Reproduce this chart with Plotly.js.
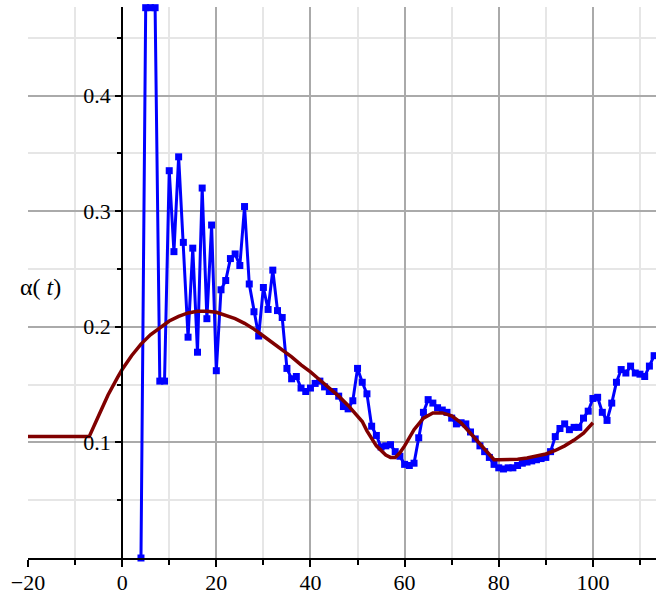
<!DOCTYPE html>
<html>
<head>
<meta charset="utf-8">
<script src="https://cdn.plot.ly/plotly-3.0.1.min.js"></script>
<style>
  html, body { margin: 0; padding: 0; background: #ffffff; }
  #plot { width: 656px; height: 615px; }
</style>
</head>
<body>
<div id="plot"></div>
<script>
// Measured alpha(t): one sample per unit of t (t = 5..7 sit at the top of the view)
const tSamples = [
  4, 5, 6, 7, 8, 9, 10, 11, 12, 13, 14, 15, 16, 17, 18, 19, 20,
  21, 22, 23, 24, 25, 26, 27, 28, 29, 30, 31, 32, 33, 34, 35, 36, 37, 38, 39, 40,
  41, 42, 43, 44, 45, 46, 47, 48, 49, 50, 51, 52, 53, 54, 55, 56, 57, 58, 59, 60,
  61, 62, 63, 64, 65, 66, 67, 68, 69, 70, 71, 72, 73, 74, 75, 76, 77, 78, 79, 80,
  81, 82, 83, 84, 85, 86, 87, 88, 89, 90, 91, 92, 93, 94, 95, 96, 97, 98, 99, 100,
  101, 102, 103, 104, 105, 106, 107, 108, 109, 110, 111, 112, 113
];
const alphaSamples = [
  0.000, 0.476, 0.476, 0.476, 0.153, 0.153, 0.335, 0.265, 0.347, 0.273, 0.191, 0.268, 0.178, 0.320, 0.207, 0.288, 0.162,
  0.232, 0.240, 0.259, 0.263, 0.253, 0.304, 0.237, 0.213, 0.192, 0.234, 0.215, 0.249, 0.214, 0.208, 0.164, 0.155, 0.157, 0.147, 0.144, 0.147,
  0.151, 0.153, 0.148, 0.144, 0.144, 0.140, 0.131, 0.129, 0.136, 0.164, 0.152, 0.142, 0.114, 0.106, 0.096, 0.097, 0.098, 0.092, 0.088, 0.081,
  0.080, 0.082, 0.104, 0.126, 0.137, 0.134, 0.130, 0.128, 0.126, 0.121, 0.116, 0.117, 0.116, 0.109, 0.103, 0.097, 0.092, 0.087, 0.081, 0.078,
  0.077, 0.078, 0.078, 0.080, 0.082, 0.083, 0.084, 0.085, 0.086, 0.087, 0.092, 0.105, 0.112, 0.116, 0.111, 0.113, 0.113, 0.121, 0.127, 0.138,
  0.139, 0.126, 0.119, 0.134, 0.152, 0.163, 0.160, 0.166, 0.160, 0.159, 0.157, 0.166, 0.175
];

// Fitted model curve
const tModel = [
  -20, -7, -5, -3, -1, 0, 2, 4, 6, 8, 10, 12, 14, 16, 18, 20, 22, 24, 26, 28, 30,
  32, 34, 36, 38, 40, 42, 44, 46, 48, 50, 51, 52, 54, 56, 57, 58, 59, 60, 62, 64,
  66, 68, 70, 72, 74, 76, 78, 79, 80, 82, 84, 86, 88, 90, 92, 94, 96, 98, 100
];
const alphaModel = [
  0.105, 0.105, 0.123, 0.141, 0.156, 0.163, 0.175, 0.185, 0.193, 0.199, 0.205, 0.209, 0.212, 0.2135, 0.2135, 0.2125, 0.210, 0.207, 0.203, 0.198, 0.192,
  0.186, 0.180, 0.174, 0.167, 0.161, 0.154, 0.147, 0.140, 0.132, 0.123, 0.118, 0.110, 0.097, 0.089, 0.087, 0.087, 0.091, 0.097, 0.111, 0.121,
  0.1255, 0.1255, 0.123, 0.117, 0.108, 0.099, 0.089, 0.085, 0.085, 0.085, 0.0855, 0.0865, 0.088, 0.090, 0.093, 0.097, 0.102, 0.108, 0.117
];

// Axis ticks
const xTickVals = [-20, 0, 20, 40, 60, 80, 100];
const xMinorVals = [-10, 10, 30, 50, 70, 90, 110];
const yTickVals = [0.1, 0.2, 0.3, 0.4];
const yTickText = ['0.1', '0.2', '0.3', '0.4'];
const yMinorVals = [0.05, 0.15, 0.25, 0.35, 0.45];

const xRange = [-20, 113.4];
const yRange = [0, 0.4766];

const serif = '"Liberation Serif", "Times New Roman", Times, serif';

const traces = [
  {
    x: tSamples, y: alphaSamples,
    type: 'scatter', mode: 'lines+markers',
    line: { color: '#0000ff', width: 3 },
    marker: { symbol: 'square', size: 7, color: '#0000ff' },
    cliponaxis: false,
    hoverinfo: 'x+y'
  },
  {
    x: tModel, y: alphaModel,
    type: 'scatter', mode: 'lines',
    line: { color: '#800000', width: 3.5 },
    cliponaxis: true,
    hoverinfo: 'x+y'
  }
];

const layout = {
  width: 656, height: 615,
  margin: { l: 28, r: 0, t: 7, b: 57 },
  paper_bgcolor: '#ffffff',
  plot_bgcolor: '#ffffff',
  showlegend: false,
  font: { family: serif, size: 22, color: '#000000' },
  xaxis: {
    range: xRange,
    tickmode: 'array', tickvals: xTickVals,
    ticks: 'outside', ticklen: 7, tickwidth: 2, tickcolor: '#000000',
    showgrid: true, gridcolor: '#aaaaaa', gridwidth: 2,
    minor: {
      tickmode: 'array', tickvals: xMinorVals,
      showgrid: true, gridcolor: '#e6e6e6', gridwidth: 2,
      ticks: 'outside', ticklen: 5, tickwidth: 2, tickcolor: '#000000'
    },
    showline: true, linecolor: '#000000', linewidth: 2,
    zeroline: false,
    tickfont: { family: serif, size: 22, color: '#000000' },
    ticklabelstandoff: -3
  },
  yaxis: {
    range: yRange,
    anchor: 'free',
    position: (0 - xRange[0]) / (xRange[1] - xRange[0]),
    tickmode: 'array', tickvals: yTickVals, ticktext: yTickText,
    ticks: 'outside', ticklen: 6, tickwidth: 2, tickcolor: '#000000',
    showgrid: true, gridcolor: '#aaaaaa', gridwidth: 2,
    minor: {
      tickmode: 'array', tickvals: yMinorVals,
      showgrid: true, gridcolor: '#e6e6e6', gridwidth: 2,
      ticks: 'outside', ticklen: 4, tickwidth: 2, tickcolor: '#000000'
    },
    showline: true, linecolor: '#000000', linewidth: 2,
    zeroline: false,
    tickfont: { family: serif, size: 22, color: '#000000' },
    ticklabelstandoff: 0
  },
  annotations: [
    {
      text: 'α( <i>t</i>)',
      xref: 'x', yref: 'y', x: -17.4, y: 0.234,
      showarrow: false, xanchor: 'center', yanchor: 'middle',
      font: { family: serif, size: 24, color: '#000000' }
    },
    {
      text: '<i>t</i>',
      xref: 'x', yref: 'y', x: 57.5, y: -0.039,
      showarrow: false, xanchor: 'center', yanchor: 'middle',
      font: { family: serif, size: 24, color: '#000000' }
    }
  ]
};

Plotly.newPlot('plot', traces, layout, { displayModeBar: false, staticPlot: true });
</script>
</body>
</html>
